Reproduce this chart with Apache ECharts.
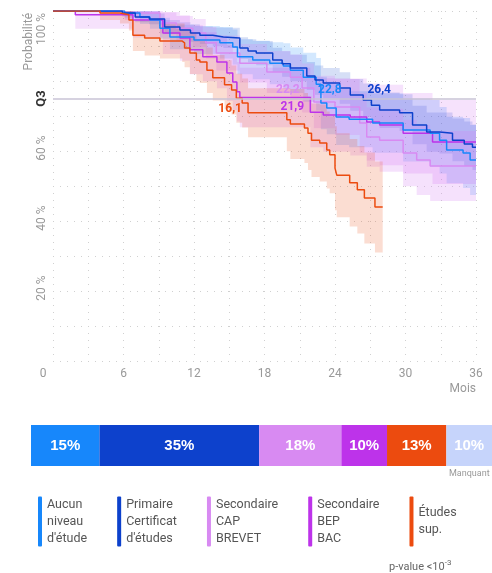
<!DOCTYPE html>
<html>
<head>
<meta charset="utf-8">
<script src="https://cdn.jsdelivr.net/npm/echarts@6/dist/echarts.min.js"></script>
<style>
html, body { margin: 0; padding: 0; background: #fff; }
#chart { width: 492px; height: 573px; }
</style>
</head>
<body>
<div id="chart"></div>
<script>
// groups
const groupNames = ["Aucun niveau d'étude", "Primaire Certificat d'études", "Secondaire CAP BREVET", "Secondaire BEP BAC", "Études sup."]
const legendLabels = ["Aucun\nniveau\nd'étude", "Primaire\nCertificat\nd'études", "Secondaire\nCAP\nBREVET", "Secondaire\nBEP\nBAC", "Études\nsup."]
const lineColors = ["#1787fb", "#0d41cc", "#d88af2", "#bd33ea", "#ec4b0f"]
const bandColors = ["rgba(23,135,251,0.19)", "rgba(13,65,204,0.17)", "rgba(216,138,242,0.26)", "rgba(189,51,234,0.14)", "rgba(236,75,15,0.19)"]
const medians = [22.8, 26.4, 22.2, 21.9, 16.1]
const q3 = 75

// Aucun niveau d'étude
const aucunMonths = [0, 6.1, 7.4, 8.25, 9.1, 9.95, 12.0, 14.2, 15.3, 15.7, 17.0, 18.45, 19.6, 20.2, 21.3, 22.4, 22.8, 23.3, 24.1, 25.2, 27.2, 29.8, 32.1, 32.9, 33.5, 34.9, 35.5, 36]
const aucunSurv = [100, 99.4, 98.3, 97.4, 95.1, 92.6, 91.7, 90.9, 89.7, 86.9, 86.0, 85.1, 84.3, 83.1, 81.1, 79.1, 73.7, 72.3, 69.7, 69.1, 68.0, 66.0, 65.1, 63.1, 60.3, 59.4, 57.4, 57.4]
const aucunHi = [100, 100, 100, 99.9, 98.1, 96.1, 95.7, 95.4, 94.7, 91.9, 91.5, 91.1, 90.8, 89.6, 88.1, 86.6, 81.2, 79.8, 77.7, 77.1, 76.5, 75.0, 74.6, 72.6, 69.8, 69.4, 67.4, 67.4]
const aucunLo = [100, 97.9, 96.3, 94.9, 92.1, 89.1, 87.7, 86.4, 84.7, 81.9, 80.5, 79.1, 77.8, 76.6, 74.1, 71.6, 66.2, 64.8, 61.7, 61.1, 59.5, 57.0, 55.6, 53.6, 50.8, 49.4, 47.4, 47.4]

// Primaire
const primMonths = [0, 5.9, 7.0, 8.2, 9.5, 10.8, 11.7, 12.5, 13.6, 14.5, 15.9, 16.6, 17.3, 18.7, 19.5, 20.2, 21.6, 22.3, 23.0, 24.4, 25.3, 26.4, 27.1, 27.8, 29.5, 30.6, 31.8, 32.9, 34.0, 35.0, 35.7, 36]
const primSurv = [100, 99.4, 98.3, 97.7, 95.4, 94.6, 93.7, 93.1, 92.6, 92.3, 89.4, 88.6, 88.0, 86.0, 84.9, 83.7, 81.4, 80.3, 79.4, 78.0, 76.0, 74.6, 73.1, 71.7, 70.9, 67.4, 65.4, 65.1, 63.1, 62.0, 61.1, 61.1]
const primHi = [100, 100, 99.8, 99.3, 97.4, 96.8, 96.2, 95.6, 95.3, 95.2, 92.5, 91.9, 91.4, 89.5, 88.5, 87.5, 85.4, 84.4, 83.7, 82.5, 80.6, 79.3, 78.0, 76.7, 76.2, 72.9, 71.0, 71.0, 69.3, 68.4, 67.6, 67.6]
const primLo = [100, 98.4, 96.8, 96.2, 93.4, 92.4, 91.2, 90.6, 89.9, 89.4, 86.3, 85.3, 84.5, 82.5, 81.2, 79.9, 77.4, 76.1, 75.1, 73.5, 71.5, 69.8, 68.1, 66.6, 65.7, 61.9, 59.8, 59.3, 57.1, 55.7, 54.6, 54.6]

// Secondaire CAP BREVET
const capMonths = [0, 6.1, 9.1, 10.5, 11.9, 13.0, 13.9, 15.9, 18.2, 20.2, 21.2, 22.2, 24.0, 26.1, 26.7, 27.8, 29.8, 30.95, 32.1, 36]
const capSurv = [100, 99.4, 96.6, 95.1, 93.7, 90.9, 88.0, 85.1, 82.6, 81.1, 78.0, 74.0, 72.6, 68.0, 64.0, 63.1, 59.4, 57.4, 55.7, 55.7]
const capHi = [100, 100, 99.6, 98.6, 97.7, 95.4, 93.0, 90.6, 88.6, 87.6, 85.0, 81.5, 80.6, 76.5, 72.5, 72.1, 68.9, 67.4, 65.7, 65.7]
const capLo = [100, 97.4, 93.6, 91.6, 89.7, 86.4, 83.0, 79.6, 76.6, 74.6, 71.0, 66.5, 64.6, 59.5, 55.5, 54.1, 49.9, 47.4, 45.7, 45.7]

// Secondaire BEP BAC
const bepMonths = [0, 1.9, 6.8, 9.35, 10.8, 11.65, 12.75, 13.95, 14.8, 15.3, 15.65, 15.9, 21.9, 23.0, 25.3, 26.7, 27.8, 29.8, 32.3, 36]
const bepSurv = [100, 98.9, 97.4, 93.7, 92.3, 88.9, 86.9, 85.4, 82.3, 79.7, 76.9, 75.3, 71.1, 70.3, 69.7, 68.3, 67.4, 65.1, 62.6, 62.6]
const bepHi = [100, 100, 100, 99.7, 98.8, 95.9, 93.9, 92.9, 90.3, 87.7, 85.4, 83.8, 81.1, 80.8, 80.7, 79.3, 78.9, 76.6, 74.6, 74.6]
const bepLo = [100, 94.9, 92.4, 87.7, 85.8, 81.9, 79.9, 77.9, 74.3, 71.7, 68.4, 66.8, 61.1, 59.8, 58.7, 57.3, 55.9, 53.6, 50.6, 50.6]

// Études sup.
const supMonths = [0, 4.0, 5.7, 6.46, 6.8, 7.8, 9.1, 11.0, 11.2, 11.65, 12.2, 12.5, 13.1, 13.6, 14.6, 15.2, 15.6, 16.1, 16.6, 19.9, 20.2, 21.4, 21.7, 22.0, 22.7, 23.3, 23.55, 24.0, 24.15, 25.25, 25.9, 26.5, 27.4, 28.06]
const supSurv = [100, 99.4, 98.9, 97.4, 93.1, 92.3, 91.4, 90.9, 89.4, 88.0, 86.0, 85.4, 83.1, 80.9, 78.9, 77.4, 75.1, 73.7, 70.9, 68.9, 67.7, 66.6, 65.1, 63.1, 62.3, 60.3, 58.9, 55.1, 53.1, 50.9, 48.9, 46.6, 44.0, 44.0]
const supHi = [100, 100, 100, 100, 97.6, 97.3, 96.4, 96.4, 94.9, 94.0, 92.0, 91.4, 89.6, 87.4, 85.9, 84.4, 82.1, 80.7, 77.9, 77.9, 77.7, 76.6, 75.6, 73.6, 73.3, 71.3, 69.9, 67.1, 65.1, 63.4, 61.4, 59.6, 57.0, 57.0]
const supLo = [100, 97.4, 96.4, 94.4, 88.6, 87.3, 86.4, 85.4, 83.9, 82.0, 80.0, 79.4, 76.6, 74.4, 71.9, 70.4, 68.1, 66.7, 63.9, 59.9, 57.7, 56.6, 54.6, 52.6, 51.3, 49.3, 47.9, 43.1, 41.1, 38.4, 36.4, 33.6, 31.0, 31.0]

// répartition
const shares = [15, 35, 18, 10, 13, 10]
const shareNames = groupNames.concat(["Manquant"])
const shareColors = ["#1787fb", "#0d41cc", "#d88af2", "#bd33ea", "#ec4b0f", "#c6d4fb"]

const yTicks = [20, 40, 60, 100]

const curves = [
  { m: aucunMonths, s: aucunSurv, lo: aucunLo, hi: aucunHi },
  { m: primMonths, s: primSurv, lo: primLo, hi: primHi },
  { m: capMonths, s: capSurv, lo: capLo, hi: capHi },
  { m: bepMonths, s: bepSurv, lo: bepLo, hi: bepHi },
  { m: supMonths, s: supSurv, lo: supLo, hi: supHi }
]
// label offsets for the medians (px)
const medianOffsets = [[9, -9], [16, -9], [-26, -9], [-18, 8], [-12, 10]]

let series = []
// confidence bands, one stepped polygon each
curves.forEach((c, i) => {
  series.push({
    name: "band" + i, type: "custom", silent: true, z: 1,
    data: [[c.m[0], c.s[0]]],
    renderItem: (params, api) => {
      let n = c.m.length
      let pts = []
      for (let k = 0; k < n; k++) {
        pts.push(api.coord([c.m[k], c.hi[k]]))
        if (k + 1 < n) pts.push(api.coord([c.m[k + 1], c.hi[k]]))
      }
      for (let k = n - 1; k >= 0; k--) {
        if (k + 1 < n) pts.push(api.coord([c.m[k + 1], c.lo[k]]))
        pts.push(api.coord([c.m[k], c.lo[k]]))
      }
      return { type: "polygon", shape: { points: pts }, style: { fill: bandColors[i] } }
    }
  })
})
series.push({
  name: "q3", type: "line", data: [], silent: true, z: 2,
  markLine: {
    symbol: "none", silent: true, label: { show: false },
    lineStyle: { color: "#c9c3d6", width: 1.5, type: "solid" },
    data: [{ yAxis: q3 }]
  }
})
let drawOrder = [2, 3, 0, 1, 4]
drawOrder.forEach(i => {
  let c = curves[i]
  series.push({
    name: groupNames[i], type: "line", step: "end", symbol: "none", z: 3,
    color: lineColors[i],
    lineStyle: { color: lineColors[i], width: 1.5 },
    data: c.m.map((x, k) => [x, c.s[k]]),
    markPoint: {
      symbol: "circle", symbolSize: 1, itemStyle: { color: "transparent" },
      label: {
        show: true, offset: medianOffsets[i], color: lineColors[i],
        fontSize: 12, fontWeight: "bold", fontFamily: "Roboto",
        formatter: String(medians[i]).replace(".", ",")
      },
      data: [{ coord: [medians[i], q3] }]
    }
  })
})
shares.forEach((v, i) => {
  series.push({
    name: shareNames[i], type: "bar", stack: "share", xAxisIndex: 1, yAxisIndex: 1,
    barWidth: 41, itemStyle: { color: shareColors[i] },
    label: {
      show: true, position: "inside", color: "#fff", fontSize: 15, fontWeight: "bold",
      fontFamily: "Liberation Sans", formatter: "{c}%"
    },
    data: [v]
  })
})

let chart = echarts.init(document.getElementById("chart"))
chart.setOption({
  animation: false,
  grid: [
    { left: 53, top: 11, width: 423, height: 350 },
    { left: 31, top: 425, width: 461, height: 41 }
  ],
  legend: {
    data: groupNames, left: 33, top: 491, itemGap: 30, itemWidth: 4, itemHeight: 50,
    icon: "roundRect", selectedMode: false,
    formatter: name => legendLabels[groupNames.indexOf(name)],
    textStyle: { color: "#555", fontSize: 12.5, lineHeight: 17, fontFamily: "Roboto" }
  },
  xAxis: [
    {
      type: "value", min: 0, max: 36, interval: 3, gridIndex: 0,
      axisLine: { show: false }, axisTick: { show: false },
      axisLabel: {
        color: "#999", fontSize: 12, fontFamily: "Roboto", margin: 7,
        formatter: v => v === 0 ? "{z|0}" : (v % 6 === 0 ? String(v) : ""),
        rich: { z: { color: "#999", fontSize: 12, fontFamily: "Roboto", padding: [0, 20, 0, 0] } }
      },
      splitLine: { show: true, lineStyle: { color: "#d0d0d0", type: [1, 6], width: 1 } }
    },
    { type: "value", min: 0, max: 101, gridIndex: 1, show: false }
  ],
  yAxis: [
    {
      type: "value", min: 0, max: 100, interval: 10, gridIndex: 0,
      axisLine: { show: false }, axisTick: { show: false }, axisLabel: { show: false },
      splitLine: { show: true, lineStyle: { color: "#d0d0d0", type: [1, 6], width: 1 } }
    },
    { type: "category", data: ["r"], gridIndex: 1, show: false }
  ],
  series: series
})

// y tick labels, titles and notes
let g = []
yTicks.forEach(v => {
  let y = chart.convertToPixel({ yAxisIndex: 0 }, v)
  let top = v === 100
  g.push({
    type: "text", x: 42, y: top ? y + 2 : y - 3, rotation: Math.PI / 2,
    style: {
      text: v + " %", fill: "#999", font: "12px Roboto",
      align: top ? "right" : "center", verticalAlign: "middle"
    }
  })
})
g.push({
  type: "text", x: 42, y: chart.convertToPixel({ yAxisIndex: 0 }, q3), rotation: Math.PI / 2,
  style: { text: "Q3", fill: "#333", font: "bold 13px Roboto", align: "center", verticalAlign: "middle" }
})
g.push({
  type: "text", x: 29, y: 13, rotation: Math.PI / 2,
  style: { text: "Probabilité", fill: "#999", font: "12px Roboto", align: "right", verticalAlign: "middle" }
})
g.push({
  type: "text", x: 476, y: 389,
  style: { text: "Mois", fill: "#999", font: "12px Roboto", align: "right", verticalAlign: "middle" }
})
g.push({
  type: "text", x: 449, y: 474,
  style: { text: "Manquant", fill: "#999", font: "9px Roboto", align: "left", verticalAlign: "middle" }
})
g.push({
  type: "text", x: 389, y: 567,
  style: {
    text: "{a|p-value <10}{b|-3}", verticalAlign: "middle", align: "left",
    rich: {
      a: { fill: "#666", fontSize: 11, fontFamily: "Roboto" },
      b: { fill: "#666", fontSize: 8, fontFamily: "Roboto", padding: [0, 0, 9, 0] }
    }
  }
})
chart.setOption({ graphic: g })
</script>
</body>
</html>
